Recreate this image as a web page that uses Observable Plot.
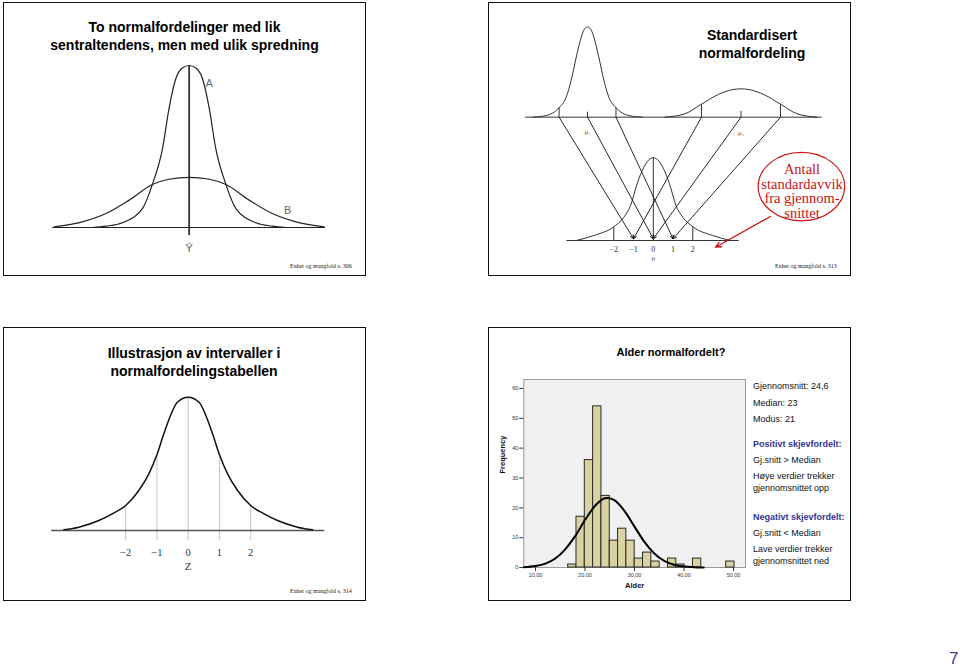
<!DOCTYPE html>
<html><head><meta charset="utf-8">
<script src="https://cdn.jsdelivr.net/npm/d3@7"></script>
<script src="https://cdn.jsdelivr.net/npm/@observablehq/plot@0.6"></script>
<style>
html,body{margin:0;padding:0;background:#fff;}
#page{position:relative;width:960px;height:669px;overflow:hidden;font-family:"Liberation Sans",Arial,sans-serif;}
.panel{position:absolute;box-sizing:border-box;border:1.5px solid #111;}
.abs{position:absolute;white-space:nowrap;}
.title{font-weight:bold;font-size:14px;line-height:18.4px;text-align:center;color:#000;}
.foot{font-family:"Liberation Serif","Times New Roman",serif;font-size:6px;line-height:8px;color:#222;}
.note{font-size:9px;line-height:12px;color:#111;}
.note.blue{color:#333399;font-weight:bold;}
.pnum{font-size:17px;line-height:20px;color:#3c3c9c;}
</style></head><body><div id="page"></div>
<script>
// ---------- DATA ----------
// Panel 1: two curves, x in units around the common mean, y relative to A's peak
const curveA = [
  {x:-2.83,y:0},{x:-2.44,y:0.008},{x:-1.96,y:0.029},{x:-1.37,y:0.117},{x:-1.08,y:0.265},{x:-0.78,y:0.488},
  {x:-0.59,y:0.735},{x:-0.39,y:0.92},{x:-0.2,y:0.985},{x:0,y:1},{x:0.2,y:0.985},{x:0.39,y:0.92},
  {x:0.59,y:0.735},{x:0.78,y:0.488},{x:1.08,y:0.265},{x:1.37,y:0.117},{x:1.96,y:0.029},{x:2.44,y:0.008},{x:2.83,y:0}
];
const curveB = [
  {x:-3.96,y:0.004},{x:-3.13,y:0.035},{x:-2.44,y:0.086},{x:-1.76,y:0.169},{x:-1.08,y:0.265},{x:-0.59,y:0.298},
  {x:0,y:0.309},{x:0.59,y:0.298},{x:1.08,y:0.265},{x:1.76,y:0.169},{x:2.44,y:0.086},{x:3.13,y:0.035},{x:3.96,y:0.004}
];
const p1Labels = [{x:0.59,y:0.887,text:"A"},{x:2.89,y:0.105,text:"B"},{x:0,y:-0.131,text:"\u0232"}];

// Panel 2: standardisation diagram (units = z-units of the lower curve)
const mu1 = -3.33, sd1 = 1.44, mu2 = 4.44, sd2 = 2.0, topBase = 6.245;
const topLeftCurve = [
  {dx:-2.77,h:0},{dx:-2.09,h:0.084},{dx:-1.45,h:0.47},{dx:-1.08,h:1.01},{dx:-0.83,h:1.86},{dx:-0.57,h:3.04},
  {dx:-0.32,h:4.05},{dx:-0.15,h:4.47},{dx:0,h:4.56},{dx:0.15,h:4.47},{dx:0.32,h:4.05},{dx:0.57,h:3.04},
  {dx:0.83,h:1.86},{dx:1.08,h:1.01},{dx:1.45,h:0.47},{dx:2.09,h:0.084},{dx:2.77,h:0}
];
const topRightCurve = [
  {dx:-3.85,h:0},{dx:-2.84,h:0.169},{dx:-2.03,h:0.641},{dx:-1.15,h:1.148},{dx:-0.47,h:1.384},{dx:0,h:1.435},
  {dx:0.47,h:1.384},{dx:1.15,h:1.148},{dx:2.03,h:0.641},{dx:2.84,h:0.169},{dx:3.85,h:0}
];
const bottomCurve = [
  {x:-3.9,h:0},{x:-3.01,h:0.253},{x:-2.03,h:0.675},{x:-1.49,h:1.18},{x:-1.15,h:1.77},{x:-0.82,h:2.87},
  {x:-0.48,h:3.71},{x:-0.23,h:4.08},{x:0,h:4.19},{x:0.23,h:4.08},{x:0.48,h:3.71},{x:0.82,h:2.87},
  {x:1.15,h:1.77},{x:1.49,h:1.18},{x:2.03,h:0.675},{x:3.01,h:0.253},{x:3.9,h:0}
];
const topLeftRules = [{dx:-1.44,h:0.47},{dx:0,h:0.25},{dx:1.44,h:0.47}];
const topRightRules = [{dx:-2.0,h:0.64},{dx:0,h:0.29},{dx:2.0,h:0.64}];
const bottomRules = [{x:-2,h:0.675},{x:0,h:4.19},{x:2,h:0.675}];
const zArrows = [
  {from:mu1 - sd1, to:-1},{from:mu1, to:0},{from:mu1 + sd1, to:1},
  {from:mu2 - sd2, to:-1},{from:mu2, to:0},{from:mu2 + sd2, to:1}
];
const zTicks = [-2,-1,0,1,2];
const zTickLabels = ["\u22122","\u22121","0","1","2"];
const muLabels = [{x:mu1,y:5.52,text:"\u03bc\u2081"},{x:mu2,y:5.48,text:"\u03bc\u2082"},{x:0,y:-0.876,text:"\u03bc"}];
const callout = {x:7.5, y:2.73, textX:7.53, textY:2.48, text:"Antall\nstandardavvik\nfra gjennom-\nsnittet"};
const calloutArrow = {x1:5.93, y1:1.215, x2:3.15, y2:-0.34};

// Panel 3: standard normal with interval lines
const curveZ = [
  {x:-3.98,y:0.005},{x:-3.5,y:0.025},{x:-2.86,y:0.075},{x:-2.43,y:0.125},{x:-2.0,y:0.1875},{x:-1.58,y:0.30},
  {x:-1.26,y:0.425},{x:-1.01,y:0.5625},{x:-0.78,y:0.725},{x:-0.565,y:0.8625},{x:-0.35,y:0.9625},{x:0,y:1},
  {x:0.35,y:0.9625},{x:0.565,y:0.8625},{x:0.78,y:0.725},{x:1.01,y:0.5625},{x:1.26,y:0.425},{x:1.58,y:0.30},
  {x:2.0,y:0.1875},{x:2.43,y:0.125},{x:2.86,y:0.075},{x:3.5,y:0.025},{x:3.98,y:0.005}
];
const intervalZ = [-2,-1,0,1,2];
const intervalTop = [0.1875,0.565,1,0.565,0.1875];
const intervalLabels = ["\u22122","\u22121","0","1","2"];

// Panel 4: age histogram
const ageBinStart = [16.6,18.28,19.96,21.64,23.32,25.0,26.68,28.36,30.04,31.72,33.4,36.76,38.44,41.8,48.52];
const ageCounts   = [1,17,36,54,24,9,13,9,3,5,2,3,1,3,2];
const ageBinWidth = 1.68;
const normalFitX = [7.64,10,12,14,16,18,20,22,24,24.6,26,28,30,32,34,36,38,40,42,44];
const normalFitY = [0.12,0.5,1.3,3.0,6.1,10.5,15.9,20.6,23.2,23.3,22.5,18.9,13.7,8.6,4.7,2.2,0.9,0.3,0.1,0];
const freqTicks = [0,10,20,30,40,50,60];
const ageTicks = [10,20,30,40,50];
const notes = ["Gjennomsnitt: 24,6","Median: 23","Modus: 21","Positivt skjevfordelt:","Gj.snitt > Median",
  "H\u00f8ye verdier trekker","gjennomsnittet opp","Negativt skjevfordelt:","Gj.snitt < Median",
  "Lave verdier trekker","gjennomsnittet ned"];
const noteHeading = [false,false,false,true,false,false,false,true,false,false,false];

// ---------- LAYOUT ----------
const page = document.getElementById("page");
function add(html, cls, style){ const d=document.createElement("div"); d.className=cls; d.innerHTML=html; Object.assign(d.style,style); page.appendChild(d); return d; }
function place(svg, left, top){ const d=document.createElement("div"); d.style.position="absolute"; d.style.left=left+"px"; d.style.top=top+"px"; d.appendChild(svg); page.appendChild(d); }

// panel frames
[[3,2],[488,2],[3,327],[488,327]].forEach(([l,t])=>add("", "panel", {left:l+"px",top:t+"px",width:"363px",height:"274px"}));

const sty = {background:"transparent",overflow:"visible",fontFamily:"'Liberation Sans',Arial,sans-serif"};
const line = "#222";

// Panel 1
add("To normalfordelinger med lik<br>sentraltendens, men med ulik spredning","abs title",{left:"3px",width:"363px",top:"17.8px"});
place(Plot.plot({
  width:300,height:200,marginLeft:12.3,marginRight:15,marginTop:10,marginBottom:28,
  x:{domain:[-4,4],axis:null}, y:{domain:[0,1],axis:null}, style:sty,
  marks:[
    Plot.ruleY([0],{x1:-4,x2:4,stroke:line,strokeWidth:1}),
    Plot.line(curveB,{x:"x",y:"y",curve:"monotone-x",stroke:line,strokeWidth:1.2}),
    Plot.line(curveA,{x:"x",y:"y",curve:"monotone-x",stroke:line,strokeWidth:1.2}),
    Plot.ruleX([0],{y1:-0.05,y2:1,stroke:"#333",strokeWidth:1.8}),
    Plot.text(p1Labels,{x:"x",y:"y",text:"text",fontSize:11,fill:"#666"})
  ]
}),40,55);
add("Enhet og mangfold s. 306","abs foot",{left:"290px",top:"262px"});

// Panel 2
add("Standardisert<br>normalfordeling","abs title",{left:"652px",width:"200px",top:"26px",lineHeight:"18.3px"});
{
  const L=505,T=10,W=340,H=258,x0=652.8,y0=240,k=19.75;
  const ellipse = {draw(ctx,size){const r=Math.sqrt(size/Math.PI),rx=r,ry=r*0.79,c=0.5523;
    ctx.moveTo(rx,0);ctx.bezierCurveTo(rx,ry*c,rx*c,ry,0,ry);ctx.bezierCurveTo(-rx*c,ry,-rx,ry*c,-rx,0);
    ctx.bezierCurveTo(-rx,-ry*c,-rx*c,-ry,0,-ry);ctx.bezierCurveTo(rx*c,-ry,rx,-ry*c,rx,0);ctx.closePath();}};
  const g="#333";
  place(Plot.plot({
    width:W,height:H,margin:0,
    x:{domain:[(L-x0)/k,(L+W-x0)/k],axis:null}, y:{domain:[(y0-T-H)/k,(y0-T)/k],axis:null}, style:sty,
    marks:[
      Plot.ruleY([topBase],{x1:-6.47,x2:8.55,stroke:g,strokeWidth:1}),
      Plot.ruleY([0],{x1:-4.37,x2:4.35,stroke:g,strokeWidth:1}),
      Plot.line(topLeftCurve,{x:d=>mu1+d.dx,y:d=>topBase+d.h,curve:"monotone-x",stroke:g,strokeWidth:1}),
      Plot.line(topRightCurve,{x:d=>mu2+d.dx,y:d=>topBase+d.h,curve:"monotone-x",stroke:g,strokeWidth:1}),
      Plot.line(bottomCurve,{x:"x",y:"h",curve:"monotone-x",stroke:g,strokeWidth:1}),
      Plot.ruleX(topLeftRules,{x:d=>mu1+d.dx,y1:topBase,y2:d=>topBase+d.h,stroke:g,strokeWidth:1}),
      Plot.ruleX(topRightRules,{x:d=>mu2+d.dx,y1:topBase,y2:d=>topBase+d.h,stroke:g,strokeWidth:1}),
      Plot.ruleX(bottomRules,{x:"x",y1:0,y2:"h",stroke:g,strokeWidth:1}),
      Plot.arrow(zArrows,{x1:"from",y1:topBase,x2:"to",y2:0.09,stroke:"#111",strokeWidth:0.9,headLength:6,headAngle:50}),
      Plot.text(zTicks,{x:d=>d,y:-0.47,text:(d,i)=>zTickLabels[i],fontFamily:"'Liberation Serif',serif",fontSize:8,fill:"#333"}),
      Plot.text(muLabels,{x:"x",y:"y",text:"text",fontFamily:"'Liberation Serif',serif",fontSize:7,fill:"#555"}),
      Plot.dot([callout],{x:"x",y:"y",r:43.3,symbol:ellipse,stroke:"#cc1111",strokeWidth:1.2,fill:"white"}),
      Plot.text([callout],{x:"textX",y:"textY",text:"text",fontFamily:"'Liberation Serif',serif",fontSize:14.5,lineHeight:1.0,fill:"#cc1111"}),
      Plot.arrow([calloutArrow],{x1:"x1",y1:"y1",x2:"x2",y2:"y2",stroke:"#cc1111",strokeWidth:1.3,headLength:7,headAngle:50})
    ]
  }),L,T);
}
add("Enhet og mangfold s. 313","abs foot",{left:"775px",top:"262px"});

// Panel 3
add("Illustrasjon av intervaller i<br>normalfordelingstabellen","abs title",{left:"94px",width:"200px",top:"344px"});
{
  const L=40,T=385,W=300,H=195,x0=187.7,kx=31.25,y0=530,ky=133.3;
  place(Plot.plot({
    width:W,height:H,margin:0,
    x:{domain:[(L-x0)/kx,(L+W-x0)/kx],axis:null}, y:{domain:[(y0-T-H)/ky,(y0-T)/ky],axis:null}, style:sty,
    marks:[
      Plot.ruleX(intervalZ,{x:d=>d,y1:-0.075,y2:(d,i)=>intervalTop[i],stroke:"#c4c4c4",strokeWidth:1}),
      Plot.ruleY([0],{x1:-4.37,x2:4.37,stroke:"#555",strokeWidth:1.3}),
      Plot.line(curveZ,{x:"x",y:"y",curve:"monotone-x",stroke:"#111",strokeWidth:1.5}),
      Plot.text(intervalZ,{x:d=>d,y:-0.168,text:(d,i)=>intervalLabels[i],fontFamily:"'Liberation Serif',serif",fontSize:10.5,fill:"#333"}),
      Plot.text(["Z"],{x:0,y:-0.27,text:d=>d,fontFamily:"'Liberation Serif',serif",fontSize:11,fill:"#333"})
    ]
  }),L,T);
}
add("Enhet og mangfold s. 314","abs foot",{left:"290px",top:"587px"});

// Panel 4
add("Alder normalfordelt?","abs title",{left:"571px",width:"200px",top:"344.7px",fontSize:"11px",lineHeight:"14px"});
{
  const bins = ageBinStart.map((s,i)=>({x1:s,x2:s+ageBinWidth,n:ageCounts[i]}));
  const fit = normalFitX.map((x,i)=>({x,y:normalFitY[i]}));
  place(Plot.plot({
    width:262,height:230,marginLeft:33.3,marginRight:7,marginTop:9,marginBottom:33,
    x:{domain:[7.64,52.42]}, y:{domain:[0,63]}, style:sty,
    marks:[
      Plot.frame({fill:"#f0f0f0",stroke:"#9a9a9a",strokeWidth:1}),
      Plot.rectY(bins,{x1:"x1",x2:"x2",y:"n",fill:"#d8d3a0",stroke:"#2a2a2a",strokeWidth:1}),
      Plot.line(fit,{x:"x",y:"y",curve:"monotone-x",stroke:"#000",strokeWidth:2}),
      Plot.axisY({ticks:freqTicks,tickSize:4,tickPadding:1.5,fontSize:5.5,label:null,stroke:"#333",fill:"#333"}),
      Plot.axisX({ticks:ageTicks,tickSize:4,tickPadding:1.5,fontSize:5.5,label:null,stroke:"#333",fill:"#333",
        tickFormat:d=>d3.format(".2f")(d).replace(".",",")}),
      Plot.text(["Frequency"],{frameAnchor:"left",text:d=>d,rotate:-90,dx:-21,fontWeight:"bold",fontSize:7.5,fill:"#111"}),
      Plot.text(["Alder"],{frameAnchor:"bottom",text:d=>d,dy:20,fontWeight:"bold",fontSize:7.5,fill:"#111"})
    ]
  }),490,370);
  const ys=[386,403,419,444,460,476,488,517,533,549,561];
  notes.forEach((t,i)=>add(t.replace("<","&lt;").replace(">","&gt;"),"abs note"+(noteHeading[i]?" blue":""),{left:"753px",top:(ys[i]-6)+"px"}));
}
add("7","abs pnum",{left:"949px",top:"649px"});
</script></body></html>
